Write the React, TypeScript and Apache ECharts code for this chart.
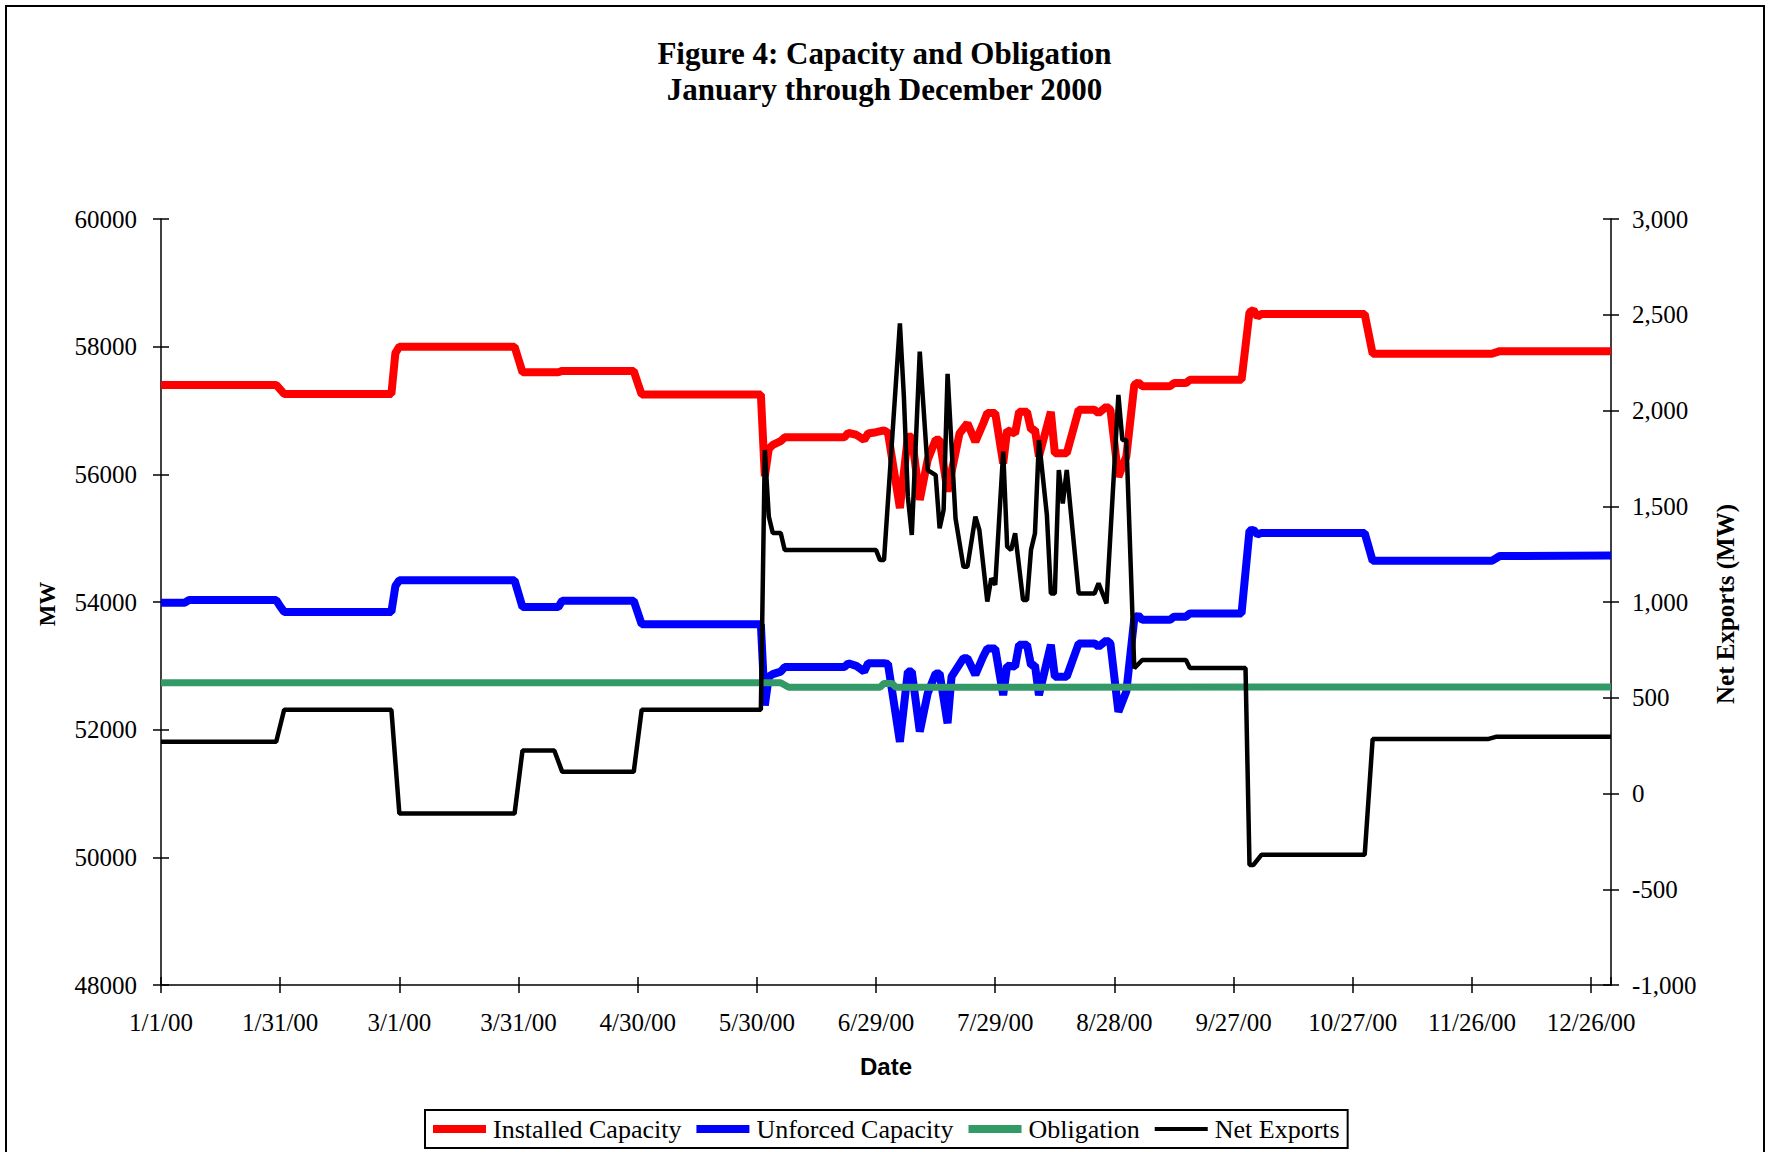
import React, { useEffect, useRef } from "react";
import * as echarts from "echarts";

const TITLE_LINES = ["Figure 4: Capacity and Obligation", "January through December 2000"];
const SERIES_NAMES = ["Installed Capacity", "Unforced Capacity", "Obligation", "Net Exports"];

// x = day of year 2000 (0 = 1/1/00), value in MW
const installedCapacity: [number, number][] = [
  [0, 57400], [29, 57400], [30, 57330], [31, 57260], [58, 57260], [59, 57900], [60, 58000],
  [89, 58000], [90, 57800], [91, 57600], [100, 57600], [101, 57620], [119, 57620], [120, 57430],
  [121, 57250], [151, 57250], [152, 55970], [153, 56400], [154, 56460], [156, 56520], [157, 56580],
  [172, 56580], [173, 56650], [175, 56620], [177, 56540], [178, 56640], [180, 56660], [182, 56690],
  [183, 56650], [186, 55470], [188, 56590], [189, 56590], [191, 55600], [193, 56230], [195, 56540],
  [196, 56540], [198, 55730], [201, 56640], [203, 56800], [205, 56510], [207, 56800], [208, 56960],
  [210, 56960], [212, 56170], [213, 56690], [215, 56640], [216, 56980], [218, 56980], [219, 56700],
  [220, 56700], [221, 56280], [224, 56980], [225, 56330], [228, 56330], [231, 57010], [235, 57010],
  [236, 56960], [238, 57060], [239, 57010], [241, 55960], [243, 56280], [245, 57400], [246, 57440],
  [247, 57380], [254, 57380], [255, 57430], [258, 57430], [259, 57480], [272, 57480], [274, 58540],
  [275, 58575], [276, 58470], [277, 58510], [303, 58510], [305, 57890], [335, 57890], [337, 57930],
  [365, 57930],
];

const unforcedCapacity: [number, number][] = [
  [0, 53990], [6, 53990], [7, 54030], [29, 54030], [30, 53930], [31, 53845], [58, 53845], [59, 54250],
  [60, 54340], [89, 54340], [91, 53920], [100, 53920], [101, 54020], [119, 54020], [121, 53650],
  [151, 53650], [152, 52380], [153, 52830], [154, 52870], [156, 52910], [157, 52980], [172, 52980],
  [173, 53040], [175, 53000], [177, 52910], [178, 53040], [182, 53040], [183, 53030], [186, 51810],
  [188, 52910], [189, 52910], [191, 51970], [193, 52570], [195, 52880], [196, 52880], [198, 52100],
  [199, 52830], [202, 53120], [203, 53120], [205, 52860], [207, 53150], [208, 53270], [210, 53270],
  [212, 52540], [213, 53000], [215, 52990], [216, 53330], [218, 53330], [219, 53010], [220, 53010],
  [221, 52540], [224, 53330], [225, 52830], [228, 52830], [231, 53350], [235, 53350], [236, 53300],
  [238, 53400], [239, 53350], [241, 52280], [243, 52600], [245, 53740], [246, 53790], [247, 53720],
  [254, 53720], [255, 53770], [258, 53770], [259, 53820], [272, 53820], [274, 55120], [275, 55130],
  [276, 55060], [277, 55080], [303, 55080], [305, 54645], [335, 54645], [337, 54720], [365, 54730],
];

const obligation: [number, number][] = [
  [0, 52735], [156, 52735], [158, 52665], [181, 52665], [182, 52725], [184, 52725], [185, 52665],
  [365, 52670],
];

// right axis, MW
const netExports: [number, number][] = [
  [0, 270], [29, 270], [31, 437], [58, 437], [60, -105], [89, -105], [91, 225], [99, 225], [101, 113],
  [119, 113], [121, 437], [151, 437], [152, 1794], [153, 1446], [154, 1360], [156, 1360], [157, 1271],
  [180, 1271], [181, 1219], [182, 1219], [186, 2455], [187, 2072], [188, 1550], [189, 1350],
  [191, 2307], [193, 1689], [195, 1663], [196, 1385], [197, 1480], [198, 2191], [200, 1437],
  [202, 1184], [203, 1184], [205, 1446], [206, 1376], [208, 1002], [209, 1124], [210, 1089],
  [212, 1785], [213, 1289], [214, 1271], [215, 1359], [217, 1010], [218, 1010], [219, 1271],
  [220, 1359], [221, 1846], [223, 1454], [224, 1045], [225, 1045], [226, 1689], [227, 1515],
  [228, 1689], [231, 1045], [235, 1045], [236, 1098], [238, 993], [241, 2081], [242, 1846],
  [243, 1846], [245, 654], [247, 697], [258, 697], [259, 655], [273, 655], [274, -373], [275, -373],
  [277, -320], [303, -320], [305, 284], [334, 284], [336, 296], [365, 296],
];

const LEFT_MIN = 48000, LEFT_MAX = 60000, LEFT_STEP = 2000;
const RIGHT_MIN = -1000, RIGHT_MAX = 3000, RIGHT_STEP = 500;
const X_MIN = 0, X_MAX = 365, X_STEP = 30;

const SERIF = '"Liberation Serif", "Times New Roman", serif';
const SANS = '"Liberation Sans", Arial, sans-serif';

function dayLabel(v: number): string {
  if (v % 30 !== 0) return "";
  const d = new Date(2000, 0, 1 + v);
  return `${d.getMonth() + 1}/${d.getDate()}/00`;
}

export default function App() {
  const ref = useRef<HTMLDivElement>(null);
  useEffect(() => {
    if (!ref.current) return;
    const chart = echarts.init(ref.current, null, { renderer: "svg" });
    const axisLineStyle = { color: "#000", width: 1.5 };
    const labelStyle = { color: "#000", fontSize: 25, fontFamily: SERIF };
    const xBase = { type: "value", min: X_MIN, max: X_MAX, interval: X_STEP, position: "bottom", splitLine: { show: false } };
    const yL = { type: "value", min: LEFT_MIN, max: LEFT_MAX, interval: LEFT_STEP, position: "left", splitLine: { show: false } };
    const yR = { type: "value", min: RIGHT_MIN, max: RIGHT_MAX, interval: RIGHT_STEP, position: "right", splitLine: { show: false } };
    chart.setOption({
      animation: false,
      backgroundColor: "#fff",
      title: {
        text: TITLE_LINES.join("\n"),
        left: "center",
        top: 30,
        textStyle: { fontSize: 31, fontWeight: "bold", fontFamily: SERIF, color: "#000", lineHeight: 36 },
      },
      grid: { left: 161, right: 158, top: 219, bottom: 167, containLabel: false },
      legend: {
        left: 425,
        bottom: 4,
        itemWidth: 53,
        itemHeight: 8,
        itemGap: 15,
        padding: [6, 8],
        borderColor: "#000",
        borderWidth: 2,
        textStyle: { fontSize: 26, fontFamily: SERIF, color: "#000", padding: [0, 0, 0, 2] },
        data: [
          { name: SERIES_NAMES[0], icon: "rect" },
          { name: SERIES_NAMES[1], icon: "rect" },
          { name: SERIES_NAMES[2], icon: "rect" },
          { name: SERIES_NAMES[3], icon: "path://M0 0H53V4H0Z" },
        ],
      },
      xAxis: [
        {
          ...xBase,
          axisLine: { show: true, onZero: false, lineStyle: axisLineStyle },
          axisTick: { show: true, inside: false, length: 8, lineStyle: axisLineStyle },
          axisLabel: { ...labelStyle, margin: 25, formatter: dayLabel, showMaxLabel: false },
        },
        {
          ...xBase,
          axisLine: { show: false, onZero: false },
          axisTick: { show: true, inside: true, length: 8, lineStyle: axisLineStyle },
          axisLabel: { show: false },
        },
      ],
      yAxis: [
        {
          ...yL,
          axisLine: { show: true, onZero: false, lineStyle: axisLineStyle },
          axisTick: { show: true, inside: false, length: 8, lineStyle: axisLineStyle },
          axisLabel: { ...labelStyle, margin: 24, formatter: (v: number) => String(v) },
        },
        {
          ...yR,
          axisLine: { show: true, onZero: false, lineStyle: axisLineStyle },
          axisTick: { show: true, inside: false, length: 8, lineStyle: axisLineStyle },
          axisLabel: { ...labelStyle, margin: 21, formatter: (v: number) => v.toLocaleString("en-US") },
        },
        {
          ...yL,
          axisLine: { show: false, onZero: false },
          axisTick: { show: true, inside: true, length: 8, lineStyle: axisLineStyle },
          axisLabel: { show: false },
        },
        {
          ...yR,
          axisLine: { show: false, onZero: false },
          axisTick: { show: true, inside: true, length: 8, lineStyle: axisLineStyle },
          axisLabel: { show: false },
        },
      ],
      series: [
        { name: SERIES_NAMES[0], type: "line", xAxisIndex: 0, yAxisIndex: 0, data: installedCapacity, color: "#ff0000", showSymbol: false, symbol: "none", lineStyle: { width: 8, color: "#ff0000" } },
        { name: SERIES_NAMES[1], type: "line", xAxisIndex: 0, yAxisIndex: 0, data: unforcedCapacity, color: "#0000ff", showSymbol: false, symbol: "none", lineStyle: { width: 8, color: "#0000ff" } },
        { name: SERIES_NAMES[2], type: "line", xAxisIndex: 0, yAxisIndex: 0, data: obligation, color: "#339966", showSymbol: false, symbol: "none", lineStyle: { width: 7, color: "#339966" } },
        { name: SERIES_NAMES[3], type: "line", xAxisIndex: 0, yAxisIndex: 1, data: netExports, color: "#000000", showSymbol: false, symbol: "none", lineStyle: { width: 4.5, color: "#000000" } },
      ],
      graphic: [
        { type: "rect", shape: { x: 6, y: 6, width: 1758, height: 1200 }, style: { fill: "none", stroke: "#000", lineWidth: 2 }, silent: true },
        { type: "text", x: 47, y: 604, rotation: Math.PI / 2, style: { text: "MW", align: "center", verticalAlign: "middle", fontSize: 23, fontWeight: "bold", fontFamily: SERIF, fill: "#000" } },
        { type: "text", x: 1725, y: 604, rotation: Math.PI / 2, style: { text: "Net Exports (MW)", align: "center", verticalAlign: "middle", fontSize: 25, fontWeight: "bold", fontFamily: SERIF, fill: "#000" } },
        { type: "text", x: 886, y: 1066, style: { text: "Date", align: "center", verticalAlign: "middle", fontSize: 24, fontWeight: "bold", fontFamily: SANS, fill: "#000" } },
      ],
    });
    return () => chart.dispose();
  }, []);
  return <div ref={ref} style={{ position: "absolute", left: 0, top: 0, width: 1769, height: 1152 }} />;
}
